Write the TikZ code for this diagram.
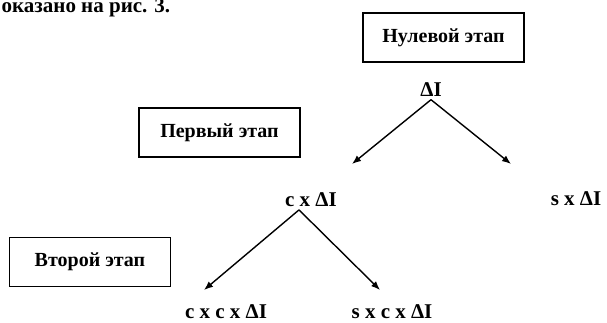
\documentclass[tikz,border=0pt]{standalone}
\usepackage{fontspec}
\setmainfont{Liberation Serif}
\usetikzlibrary{arrows.meta,positioning}

\tikzset{
  etap/.style={draw, line width=1.3pt, minimum width=161pt, minimum height=49pt,
               font=\fontsize{20}{24}\selectfont\bfseries},
  term/.style={font=\fontsize{21}{25}\selectfont\bfseries, anchor=base, inner sep=1pt},
}

\begin{document}
\begin{tikzpicture}[x=1pt,
            y=-1pt,
            ->,
            >={Latex[length=9pt,width=7pt]},
            line width=1.4pt]

        \useasboundingbox (0,0) rectangle (607,322);

        \node[term, anchor=base west] (lead) at (0,12) {оказано на рис. 3.};

        \node[etap] (zero)   at (443.5,37.5) {Нулевой этап};
        \node[etap] (first)  at (219.5,132.5) {Первый этап};
        \node[etap] (second) at (90,262)     {Второй этап};

        \node[term] (dI)   at (431,96)  {ΔI};
        \node[term] (cdI)  at (311,206) {c x ΔI};
        \node[term] (sdI)  at (576,205) {s x ΔI};
        \node[term] (ccdI) at (226,318) {c x c x ΔI};
        \node[term] (scdI) at (392,318) {s x c x ΔI};

        \coordinate (top) at ([xshift=-12pt,yshift=-2pt]cdI.south);
        \coordinate (t1) at (352,164);
        \coordinate (t2) at (511,164);
        \coordinate (t3) at (204,290);
        \coordinate (t4) at (380,290);

        \draw ([yshift=-2pt]dI.south) -- (t1);
        \draw ([yshift=-2pt]dI.south) -- (t2);
        \draw (top) -- (t3);
        \draw (top) -- (t4);

    \end{tikzpicture}
\end{document}
